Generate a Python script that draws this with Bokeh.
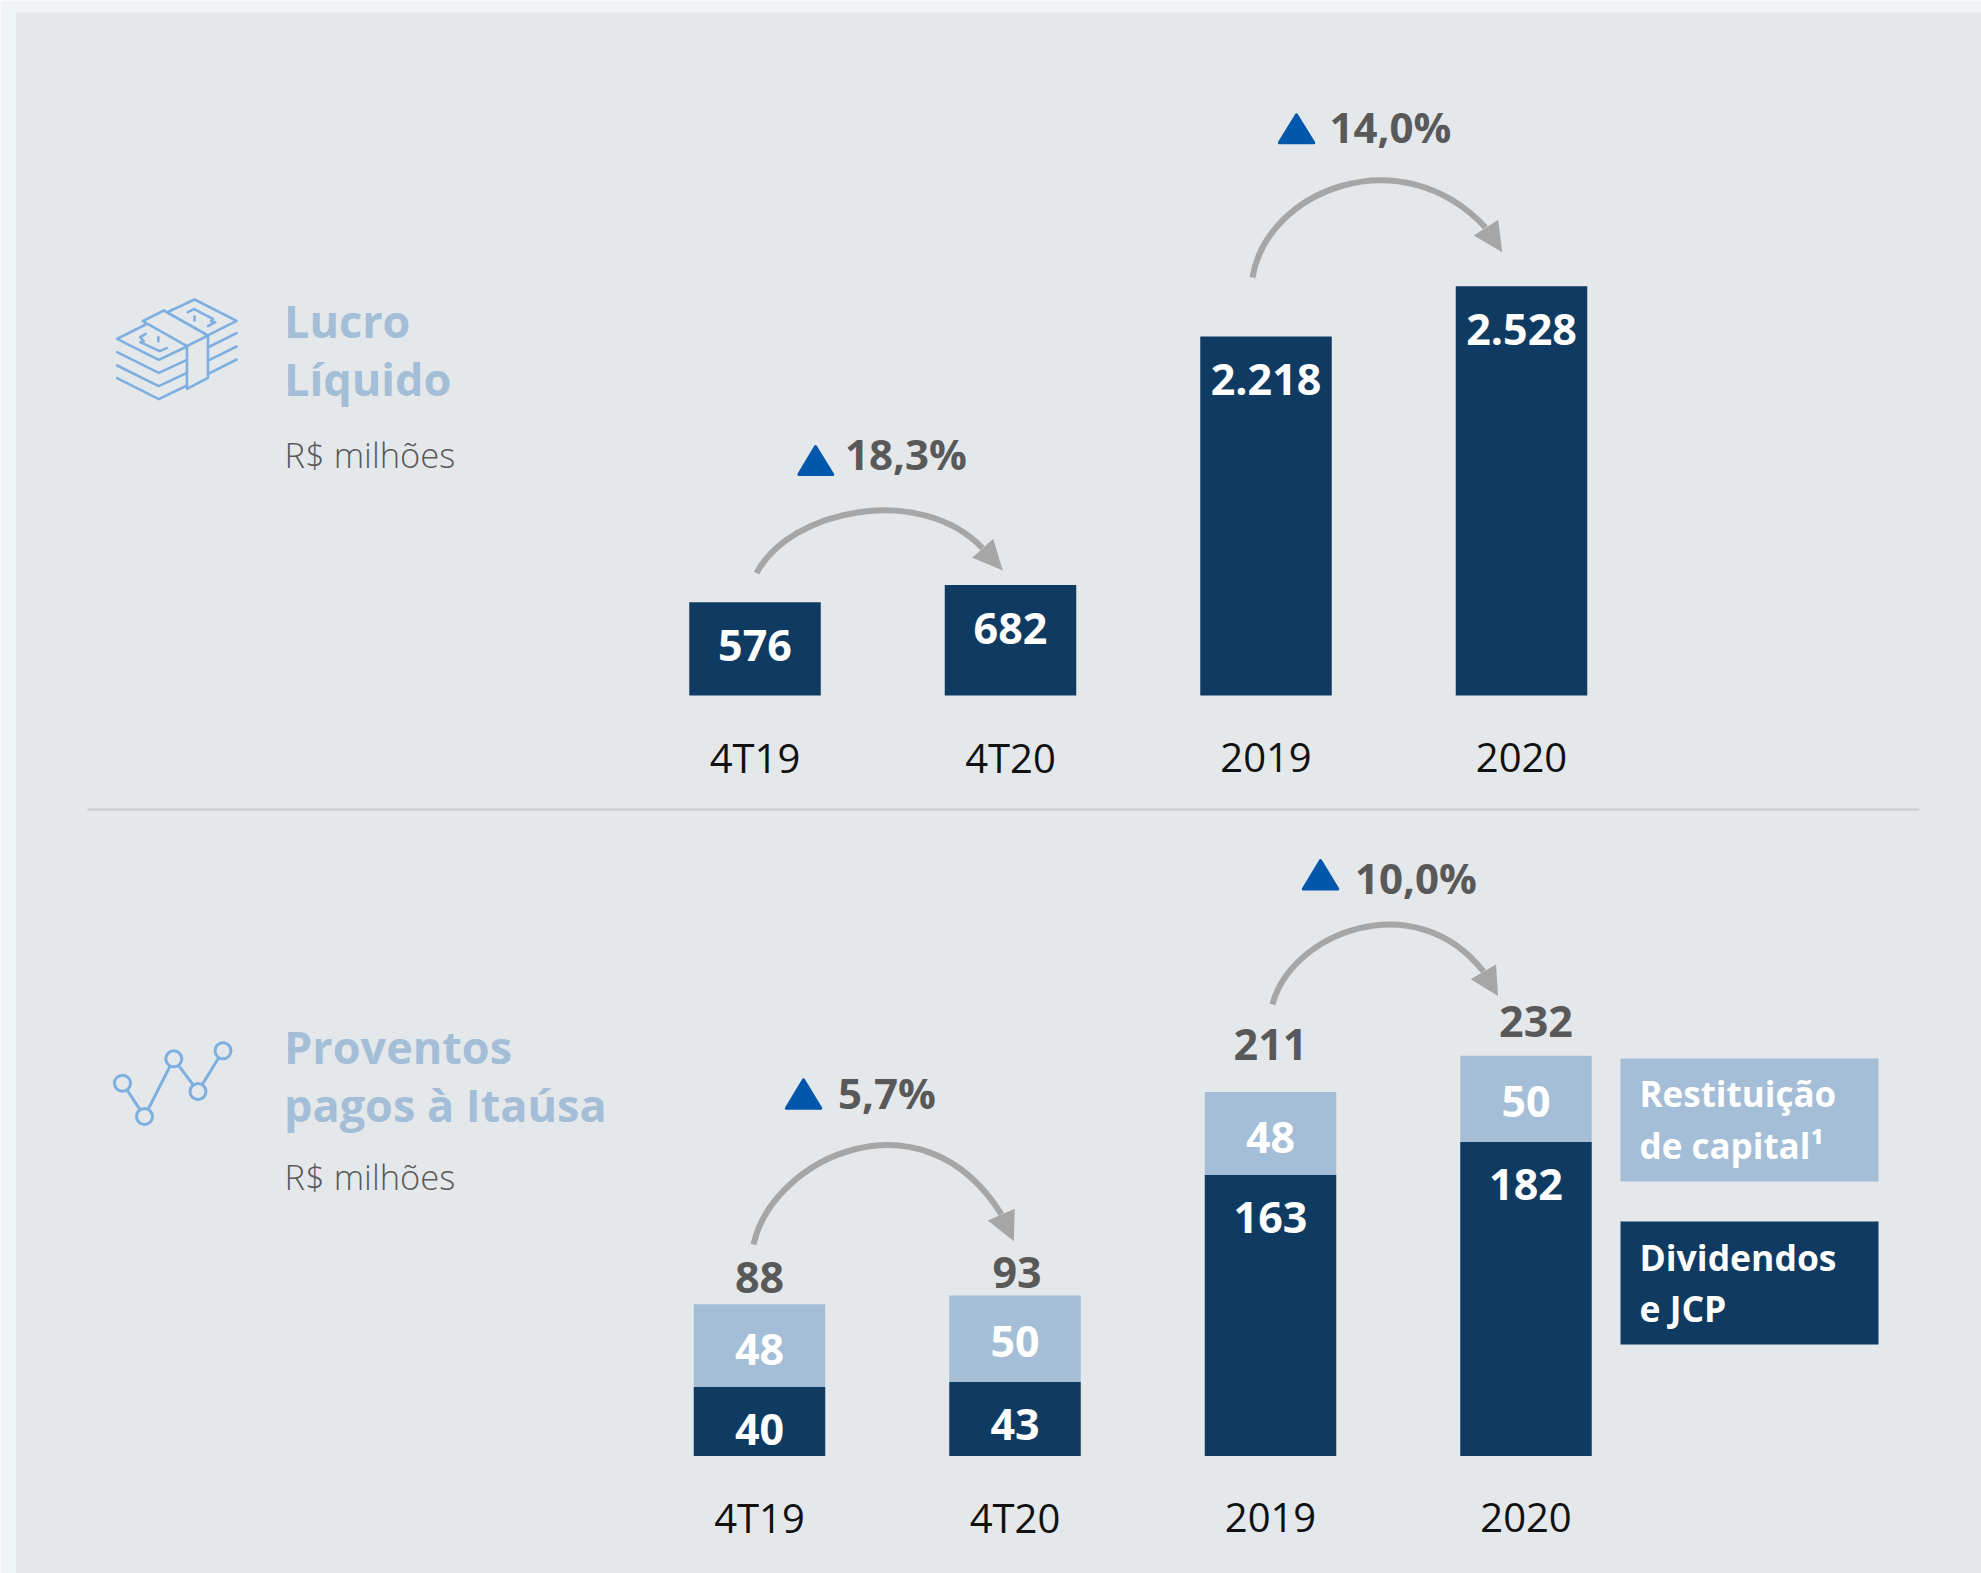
from bokeh.plotting import figure
from bokeh.models import Range1d
from bokeh.core.properties import value
from bokeh.embed import file_html
from bokeh.resources import INLINE
import numpy as np

# ---- data ----
categories = ["4T19", "4T20", "2019", "2020"]
lucro = [576, 682, 2218, 2528]
lucro_labels = ["576", "682", "2.218", "2.528"]
dividendos = [40, 43, 163, 182]
restituicao = [48, 50, 48, 50]
totais = [88, 93, 211, 232]
variacao_lucro = ["18,3%", "14,0%"]
variacao_proventos = ["5,7%", "10,0%"]
titulos = [["Lucro", "Líquido"], ["Proventos", "pagos à Itaúsa"]]
unidade = "R$ milhões"
legenda_restituicao = ["Restituição", "de capital¹"]
legenda_dividendos = ["Dividendos", "e JCP"]

# ---- page geometry ----
W, H = 1981, 1573
PANEL = "#e4e8eb"
STRIP = "#eff4f7"
DARK = "#0f3a61"
LIGHT = "#a3bed6"
GREY = "#595959"
ARROW = "#a6a6a6"
BLUE = "#0057ab"
ICON = "#7db0e0"
FONT = value("Open Sans")

p = figure(width=W, height=H, x_range=Range1d(0, W), y_range=Range1d(H, 0),
           x_axis_location=None, y_axis_location=None, toolbar_location=None,
           output_backend="svg", min_border=0, outline_line_color=None,
           background_fill_color=STRIP, border_fill_color=STRIP)
p.grid.visible = False


def band(name, first_center, step, baseline, scale):
    """Extra ranges so index 0.. and value 0.. land at the panel's place on the frame."""
    p.extra_x_ranges[name] = Range1d(-first_center / step, (W - first_center) / step)
    p.extra_y_ranges[name] = Range1d((baseline - H) / scale, baseline / scale)


band("top", 754.5, 255.5, 695.0, 0.1619)
band("low", 759, 255.5, 1455.5, 1.725)
idx = np.arange(len(categories))
BAR_W = 131.5 / 255.5

# background
p.quad(left=15.5, right=W, top=12, bottom=H, fill_color=PANEL, line_color=None)
p.line([87, 1919], [809, 809], line_color="#c6c9cc", line_width=2)


def txt(x, y, s, size, color, style="normal", align="left", font=FONT, y_offset=0, **kw):
    # the text glyph sits lower than its anchor by a share of the font size
    p.text(x=x, y=y, text=s, text_font=font, text_font_size=f"{size}px",
           text_color=color, text_font_style=style, text_align=align,
           text_baseline="alphabetic", y_offset=y_offset - 0.385 * size, **kw)


# bars upper panel
p.vbar(x=idx, top=lucro, bottom=0, width=BAR_W, fill_color=DARK, line_color=None,
       x_range_name="top", y_range_name="top")
txt(idx, lucro, lucro_labels, 43, "white", "bold", "center", y_offset=59.5,
    x_range_name="top", y_range_name="top")
txt(idx, [0] * 4, categories, 40, "#111111", "normal", "center", y_offset=77,
    x_range_name="top", y_range_name="top")

# bars lower panel
stack_top = [a + b for a, b in zip(dividendos, restituicao)]
p.vbar(x=idx, top=dividendos, bottom=0, width=BAR_W, fill_color=DARK, line_color=None,
       x_range_name="low", y_range_name="low")
p.vbar(x=idx, top=stack_top, bottom=dividendos, width=BAR_W, fill_color=LIGHT, line_color=None,
       x_range_name="low", y_range_name="low")
txt(idx, dividendos, [str(v) for v in dividendos], 43, "white", "bold", "center", y_offset=59,
    x_range_name="low", y_range_name="low")
txt(idx, stack_top, [str(v) for v in restituicao], 43, "white", "bold", "center", y_offset=62,
    x_range_name="low", y_range_name="low")
total_dy = [-10, -7, -31, -18]
total_dx = [0, 2, 0, 10]
for i, t in enumerate(totais):
    txt([idx[i]], [t], [str(t)], 43, GREY, "bold", "center",
        x_offset=total_dx[i], y_offset=total_dy[i],
        x_range_name="low", y_range_name="low")
txt(idx, [0] * 4, categories, 40, "#111111", "normal", "center", y_offset=76.5,
    x_range_name="low", y_range_name="low")

# growth arrows: start, two controls, end of stem, head points
arrows = [
    ((756, 572.7), (790, 508), (920, 483), (982, 547.7), [(1002.3, 570), (992.7, 538.3), (971.7, 557.3)]),
    ((1252, 277), (1266, 190), (1400, 136), (1485, 227), [(1501.7, 251.7), (1497.7, 219.3), (1473.3, 235)]),
    ((753, 1244), (772, 1157), (922, 1087), (1001, 1214), [(1013.3, 1240.7), (1014.3, 1208.3), (987.3, 1220)]),
    ((1272, 1004), (1290, 933), (1414, 883), (1483, 971), [(1497.6, 995.6), (1495.5, 964), (1470.2, 978.8)]),
]
for s, c0, c1, e, head in arrows:
    p.bezier(x0=[s[0]], y0=[s[1]], x1=[e[0]], y1=[e[1]], cx0=[c0[0]], cy0=[c0[1]],
             cx1=[c1[0]], cy1=[c1[1]], line_color=ARROW, line_width=6)
    p.patch([h[0] for h in head], [h[1] for h in head], fill_color=ARROW, line_color=None)

# growth triangles and labels
tris = [
    [(815, 446), (798.3, 474), (832.3, 474)],
    [(1296, 114.3), (1278.8, 142.2), (1313.3, 142.2)],
    [(803, 1079.3), (785.8, 1107.8), (820.3, 1107.8)],
    [(1320, 860), (1302.8, 888.5), (1337.3, 888.5)],
]
for t in tris:
    p.patch([a[0] for a in t], [a[1] for a in t], fill_color=BLUE, line_color=BLUE,
            line_width=3, line_join="round")
var_xy = [(844.5, 469), (1329, 142.5), (837.5, 1108.5), (1354.5, 893.4)]
for (x, y), s in zip(var_xy, variacao_lucro + variacao_proventos):
    txt([x], [y], [s], 42, GREY, "bold")

# titles
title_xy = [(283.5, 337.3), (283.5, 395), (283.5, 1063), (283.5, 1121)]
for (x, y), s in zip(title_xy, titulos[0] + titulos[1]):
    txt([x], [y], [s], 45, LIGHT, "bold")
for y in (467.5, 1189.5):
    txt([284], [y], [unidade], 34.5, GREY, font=value("Open Sans Light"))

# legend boxes
p.quad(left=1620, right=1878, top=1058, bottom=1181, fill_color=LIGHT, line_color=None)
p.quad(left=1620, right=1878, top=1221, bottom=1344, fill_color=DARK, line_color=None)
for y, s in zip((1106, 1158.5), legenda_restituicao):
    txt([1639], [y], [s], 35, "white", "bold")
for y, s in zip((1269.7, 1321.4), legenda_dividendos):
    txt([1639], [y], [s], 35.5, "white", "bold")


# icons
def icon_line(points, zx, zy, ox=0, oy=0, w=2.6):
    p.line([ox + a / zx for a, _ in points], [oy + b / zy for _, b in points],
           line_color=ICON, line_width=w, line_join="round", line_cap="round")


money = [
    [(400, 933), (461, 897), (561, 961), (495, 1003)],
    [(338, 962), (388, 930), (493, 1005), (443, 1037), (338, 962)],
    [(443, 1037), (443, 1165), (493, 1132), (493, 1005)],
    [(345, 972), (277, 1015), (376, 1078), (443, 1038)],
    [(277, 1055), (376, 1117), (443, 1078)],
    [(277, 1095), (376, 1157), (443, 1117)],
    [(277, 1133), (376, 1196), (443, 1155)],
    [(497, 1038), (561, 998)],
    [(497, 1078), (561, 1038)],
    [(497, 1118), (561, 1077)],
    [(345, 1000), (332, 1010), (340, 1022), (332, 1025), (378, 1052), (395, 1043)],
    [(375, 1010), (375, 1022)],
    [(445, 935), (460, 926), (505, 955), (500, 962), (510, 965), (493, 977)],
    [(461, 948), (461, 960)],
]
for seg in money:
    icon_line(seg, 2.376, 3)

nodes_x = [122, 144, 173.3, 197.5, 222.5]
nodes_y = [1082.7, 1116, 1058.3, 1091, 1050.3]
p.line(nodes_x, nodes_y, line_color=ICON, line_width=3)
p.scatter(nodes_x, nodes_y, size=16, marker="circle", fill_color=PANEL, line_color=ICON, line_width=3)

html = file_html(p, INLINE)
html = html.replace("<head>", "<head><style>html,body{margin:0;padding:0;overflow:hidden}</style>", 1)
open("out.html", "w").write(html)
